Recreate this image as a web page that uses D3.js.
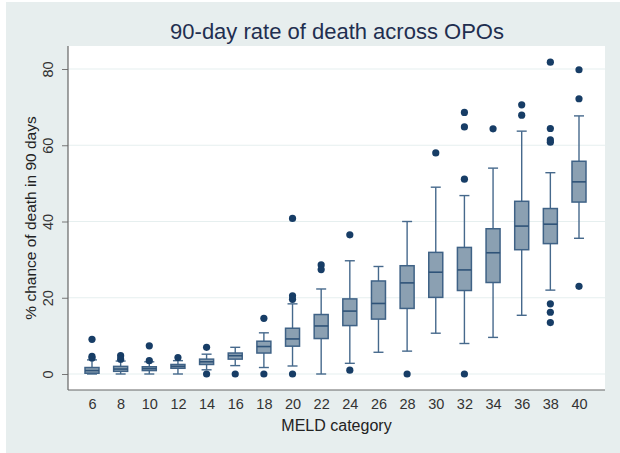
<!DOCTYPE html>
<html>
<head>
<meta charset="utf-8">
<script src="https://cdn.jsdelivr.net/npm/d3@7"></script>
<style>
  body { margin: 0; background: #ffffff; }
  svg { display: block; font-family: "Liberation Sans", Arial, sans-serif; }
</style>
</head>
<body>
<svg id="chart" width="620" height="453"></svg>
<script>
// MELD categories and box statistics (% chance of death in 90 days)
const categories = [6, 8, 10, 12, 14, 16, 18, 20, 22, 24, 26, 28, 30, 32, 34, 36, 38, 40];
const whiskerLow = [0, 0, 0, 0, 1.1, 2.2, 1.7, 2.1, 0, 2.8, 5.7, 6.0, 10.7, 8.0, 9.6, 15.4, 22.0, 35.6];
const q1 = [0.2, 0.7, 0.9, 1.5, 2.5, 3.9, 5.5, 7.3, 9.3, 12.7, 14.4, 17.2, 20.1, 21.9, 24.0, 32.6, 34.2, 45.1];
const medians = [0.9, 1.3, 1.4, 2.0, 3.2, 4.8, 7.2, 9.2, 12.6, 16.5, 18.5, 23.9, 26.7, 27.3, 31.8, 38.8, 39.3, 50.4];
const q3 = [1.7, 2.0, 1.9, 2.5, 3.9, 5.5, 8.6, 12.0, 15.6, 19.7, 24.4, 28.4, 31.9, 33.2, 38.1, 45.3, 43.4, 55.8];
const whiskerHigh = [3.7, 3.4, 3.2, 3.5, 5.2, 7.0, 10.8, 18.4, 22.3, 29.7, 28.2, 40.0, 49.0, 46.8, 54.0, 63.7, 52.8, 67.7];
const outliers = [
    [9.1, 4.6, 4.2],
    [4.8, 3.9],
    [7.4, 3.5],
    [4.3],
    [7.0, 0],
    [0],
    [14.6, 0],
    [40.8, 20.5, 19.6, 0],
    [28.6, 27.4],
    [36.5, 1.0],
    [],
    [0],
    [58.0],
    [68.6, 64.8, 51.1, 0],
    [64.3],
    [70.6, 67.9],
    [81.8, 64.4, 61.4, 60.8, 18.4, 16.2, 13.5],
    [79.8, 72.2, 23.0]
];
const yTicks = [0, 20, 40, 60, 80];

const svg = d3.select("#chart");
const plot = { left: 68, right: 605, top: 46, bottom: 390 };

// outer graph region
svg.append("rect")
    .attr("x", 6).attr("y", 2)
    .attr("width", 614).attr("height", 451)
    .attr("fill", "#e7eeee");

svg.append("rect")
    .attr("x", plot.left).attr("y", plot.top)
    .attr("width", plot.right - plot.left).attr("height", plot.bottom - plot.top)
    .attr("fill", "#ffffff");

const x = d3.scalePoint().domain(categories).range([plot.left + 24, plot.right - 26]);
const y = d3.scaleLinear().domain([0, 80]).range([374, 69]);

// grid lines
svg.append("g").selectAll("line")
    .data(yTicks)
    .enter().append("line")
    .attr("x1", plot.left).attr("x2", plot.right)
    .attr("y1", d => y(d)).attr("y2", d => y(d))
    .attr("stroke", "#e6efef")
    .attr("stroke-width", 1.2);

// y axis
const yAxis = svg.append("g")
    .attr("transform", "translate(" + plot.left + ",0)")
    .call(d3.axisLeft(y).tickValues(yTicks).tickSize(6).tickPadding(4).tickFormat(d3.format("d")));
yAxis.select(".domain").remove();
yAxis.selectAll(".tick line").attr("stroke", "#777");
yAxis.selectAll(".tick text")
    .attr("x", -15).attr("dy", 0)
    .attr("transform", "rotate(-90)")
    .attr("text-anchor", "middle")
    .attr("y", null)
    .style("font-size", "14.5px")
    .attr("fill", "#333");
// re-place rotated labels
yAxis.selectAll(".tick text")
    .attr("x", 0).attr("y", -15);

svg.append("line")
    .attr("x1", plot.left).attr("x2", plot.left)
    .attr("y1", plot.top).attr("y2", plot.bottom)
    .attr("stroke", "#666").attr("stroke-width", 1.2);

// x axis
const xAxis = svg.append("g")
    .attr("transform", "translate(0," + plot.bottom + ")")
    .call(d3.axisBottom(x).tickSize(0).tickPadding(9));
xAxis.select(".domain").remove();
xAxis.selectAll(".tick text")
    .style("font-size", "14.5px")
    .attr("fill", "#333");

svg.append("line")
    .attr("x1", plot.left).attr("x2", plot.right)
    .attr("y1", plot.bottom).attr("y2", plot.bottom)
    .attr("stroke", "#666").attr("stroke-width", 1.2);

// boxes
const boxW = 14, capW = 10;
const boxes = svg.append("g").selectAll("g")
    .data(categories)
    .enter().append("g");

const stroke = "#46698c";

boxes.append("line")
    .attr("x1", d => x(d)).attr("x2", d => x(d))
    .attr("y1", (d, i) => y(whiskerHigh[i])).attr("y2", (d, i) => y(q3[i]))
    .attr("stroke", stroke).attr("stroke-width", 1.4);
boxes.append("line")
    .attr("x1", d => x(d)).attr("x2", d => x(d))
    .attr("y1", (d, i) => y(whiskerLow[i])).attr("y2", (d, i) => y(q1[i]))
    .attr("stroke", stroke).attr("stroke-width", 1.4);
boxes.append("line")
    .attr("x1", d => x(d) - capW / 2).attr("x2", d => x(d) + capW / 2)
    .attr("y1", (d, i) => y(whiskerHigh[i])).attr("y2", (d, i) => y(whiskerHigh[i]))
    .attr("stroke", stroke).attr("stroke-width", 1.4);
boxes.append("line")
    .attr("x1", d => x(d) - capW / 2).attr("x2", d => x(d) + capW / 2)
    .attr("y1", (d, i) => y(whiskerLow[i])).attr("y2", (d, i) => y(whiskerLow[i]))
    .attr("stroke", stroke).attr("stroke-width", 1.4);
boxes.append("rect")
    .attr("x", d => x(d) - boxW / 2)
    .attr("width", boxW)
    .attr("y", (d, i) => y(q3[i]))
    .attr("height", (d, i) => y(q1[i]) - y(q3[i]))
    .attr("fill", "#8ba0b2")
    .attr("stroke", "#3f6286").attr("stroke-width", 1.5);
boxes.append("line")
    .attr("x1", d => x(d) - boxW / 2).attr("x2", d => x(d) + boxW / 2)
    .attr("y1", (d, i) => y(medians[i])).attr("y2", (d, i) => y(medians[i]))
    .attr("stroke", "#2f5378").attr("stroke-width", 1.6);

// outliers
boxes.each(function(d, i) {
    d3.select(this).selectAll("circle")
        .data(outliers[i])
        .enter().append("circle")
        .attr("cx", x(d))
        .attr("cy", v => y(v))
        .attr("r", 3.6)
        .attr("fill", "#173d66");
});

// titles
svg.append("text")
    .attr("x", 337).attr("y", 39)
    .attr("text-anchor", "middle")
    .style("font-size", "22px")
    .attr("fill", "#1f2f50")
    .text("90-day rate of death across OPOs");

svg.append("text")
    .attr("x", (plot.left + plot.right) / 2).attr("y", 431)
    .attr("text-anchor", "middle")
    .style("font-size", "16px")
    .attr("fill", "#222")
    .text("MELD category");

svg.append("text")
    .attr("transform", "translate(36," + 218 + ")rotate(-90)")
    .attr("text-anchor", "middle")
    .style("font-size", "15.5px")
    .attr("fill", "#222")
    .text("% chance of death in 90 days");
</script>
</body>
</html>
